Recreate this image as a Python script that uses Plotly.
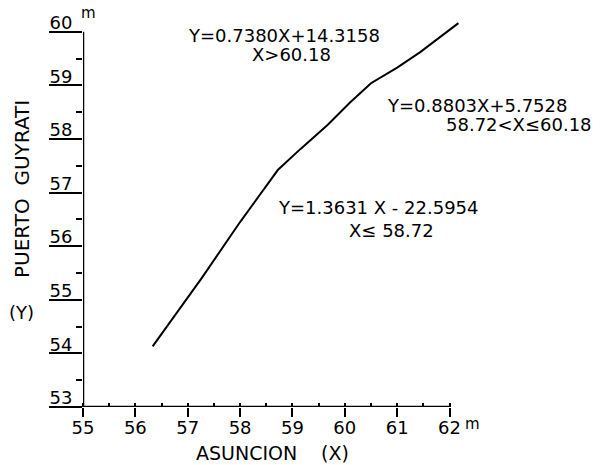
import plotly.graph_objects as go

# Stage relation: Asuncion (X) vs Puerto Guyrati (Y), metres
asuncion = [56.33, 57.27, 58.00, 58.72, 59.15, 59.67, 60.10, 60.50, 61.00, 61.44, 62.17]
guyrati = [54.13, 55.41, 56.45, 57.42, 57.81, 58.26, 58.68, 59.04, 59.33, 59.62, 60.16]

x_ticks = [55, 56, 57, 58, 59, 60, 61, 62]
y_ticks = [53, 54, 55, 56, 57, 58, 59, 60]

# Regression equations with their validity ranges
equations = [
    "Y=0.7380X+14.3158",
    "X>60.18",
    "Y=0.8803X+5.7528",
    "58.72<X\u226460.18",
    "Y=1.3631 X - 22.5954",
    "X\u2264 58.72",
]
# Label centres in pixels from the top-left of the figure
equation_px = [(284, 35), (291, 55), (477, 105), (519, 125), (378, 208), (391, 231)]

W, H = 609, 465
ML, MR, MT, MB = 83, 149, 21, 58
PW, PH = W - ML - MR, H - MT - MB


def paper_x(px):
    return (px - ML) / PW


def paper_y(py):
    return (H - MB - py) / PH


FONT = "DejaVu Sans"
X0, X1 = x_ticks[0], x_ticks[-1]
Y0, Y1 = y_ticks[0], y_ticks[-1]

fig = go.Figure()
fig.add_trace(go.Scatter(
    x=asuncion, y=guyrati, mode="lines",
    line=dict(color="black", width=2),
    showlegend=False, hoverinfo="skip",
))

fig.update_xaxes(
    range=[X0, X1 + 0.2], showgrid=False, zeroline=False, showline=False,
    tickmode="array", tickvals=x_ticks, ticktext=[str(v) for v in x_ticks],
    ticks="outside", ticklen=9, tickwidth=2, tickcolor="black",
    minor=dict(dtick=0.5, tick0=55, ticks="inside", ticklen=4, tickwidth=2, tickcolor="black"),
    tickfont=dict(family=FONT, size=18, color="black"),
    ticklabelstandoff=-5,
)
fig.update_yaxes(
    range=[Y0, Y1 + 0.2], showgrid=False, zeroline=False, showline=False,
    tickmode="array", tickvals=y_ticks, ticktext=[str(v) for v in y_ticks],
    ticks="outside", ticklen=33, tickwidth=2, tickcolor="black",
    minor=dict(dtick=0.5, tick0=53, ticks="outside", ticklen=6, tickwidth=2, tickcolor="black"),
    tickfont=dict(family=FONT, size=18, color="black"),
    ticklabelstandoff=-27, ticklabelshift=-9,
)

# Axis lines end at the last labelled tick
fig.add_shape(type="line", xref="x", yref="y", x0=X0, y0=Y0, x1=X1, y1=Y0,
              line=dict(color="black", width=2.5))
fig.add_shape(type="line", xref="x", yref="y", x0=X0, y0=Y0, x1=X0, y1=Y1,
              line=dict(color="black", width=2.5))


def label(text, px, py, size=18, angle=0):
    fig.add_annotation(text=text, x=paper_x(px), y=paper_y(py), xref="paper", yref="paper",
                       xanchor="center", yanchor="middle", textangle=angle,
                       showarrow=False, font=dict(family=FONT, size=size, color="black"))


for text, (px, py) in zip(equations, equation_px):
    label(text, px, py)

# Unit marks on the end ticks
fig.add_annotation(text="m", x=X0, y=Y1, xref="x", yref="y", showarrow=False,
                   xshift=-4, yshift=19, xanchor="left",
                   font=dict(family=FONT, size=15, color="black"))
fig.add_annotation(text="m", x=X1, y=Y0, xref="x", yref="y", showarrow=False,
                   xshift=13, yshift=-17, xanchor="left",
                   font=dict(family=FONT, size=15, color="black"))

# Axis titles
label("PUERTO  GUYRATI", 22, 189, size=20, angle=-90)
label("(Y)", 22, 312)
label("ASUNCION", 246, 453, size=19)
label("(X)", 335, 453, size=19)

fig.update_layout(
    width=W, height=H,
    margin=dict(l=ML, r=MR, t=MT, b=MB),
    paper_bgcolor="white", plot_bgcolor="white",
)

fig.write_html("out.html")
